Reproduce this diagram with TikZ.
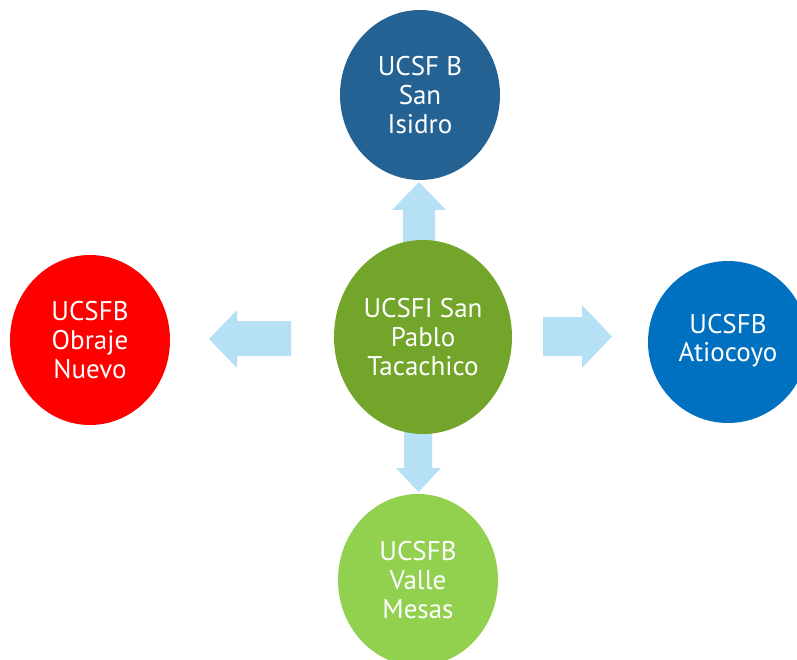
\documentclass[tikz,border=0pt]{standalone}
\usepackage{fontspec}
\setmainfont{PT Sans}
\usetikzlibrary{shapes.geometric}
\definecolor{cgreen}{HTML}{73A52B}
\definecolor{cdblue}{HTML}{256294}
\definecolor{cred}{HTML}{FF0000}
\definecolor{cblue}{HTML}{0070C0}
\definecolor{clgreen}{HTML}{92D050}
\definecolor{carrow}{HTML}{B6E1F4}
\tikzset{
  blob/.style={ellipse, inner sep=0pt, text=white, align=center,
    font=\fontsize{27}{29}\selectfont, minimum width=160, minimum height=170},
  blockarrow/.style={fill=carrow, draw=none}
}
\begin{document}
\begin{tikzpicture}[x=1pt,y=-1pt]
\useasboundingbox (0,0) rectangle (797,660);
\clip (0,0) rectangle (797,660);
% block arrows
\fill[blockarrow] (403,245) -- (403,210) -- (392,210) -- (419,182) -- (446,210) -- (435,210) -- (435,245) -- cycle;
\fill[blockarrow] (291,321) -- (237,321) -- (237,310) -- (209,339) -- (237,368) -- (237,356) -- (291,356) -- cycle;
\fill[blockarrow] (543,317) -- (582,317) -- (582,305) -- (612,336.5) -- (582,368) -- (582,356) -- (543,356) -- cycle;
\fill[blockarrow] (404,430) -- (404,468) -- (396,468) -- (418.5,492) -- (441,468) -- (432,468) -- (432,430) -- cycle;
% nodes
\node[blob, fill=cgreen, minimum width=178, minimum height=194] (c) at (423,337) {UCSFI San\\Pablo\\Tacachico};
\node[blob, fill=cdblue] (t) at (420,95) {UCSF B\\San\\Isidro};
\node[blob, fill=cred] (l) at (90,340) {UCSFB\\Obraje\\Nuevo};
\node[blob, fill=cblue, minimum height=162] (r) at (728,342) {\raisebox{6pt}{\begin{tabular}{@{}c@{}}UCSFB\\[-1pt]Atiocoyo\end{tabular}}};
\node[blob, fill=clgreen, minimum height=172] (b) at (418,580) {UCSFB\\Valle\\Mesas};
\end{tikzpicture}
\end{document}
